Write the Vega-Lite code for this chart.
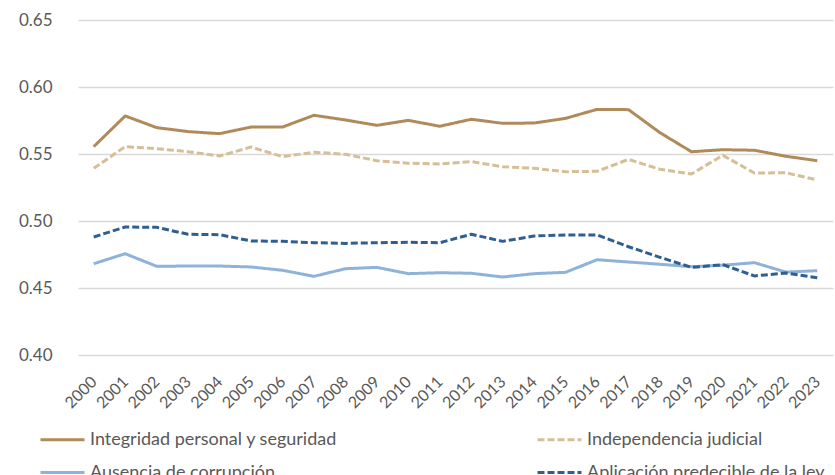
{
  "$schema": "https://vega.github.io/schema/vega-lite/v6.json",
  "autosize": {"type": "none"},
  "width": 773,
  "height": 335,
  "padding": {"left": 62, "top": 20, "right": 0, "bottom": 120},
  "background": "white",
  "config": {
    "view": {"stroke": null},
    "font": "Lato",
    "axis": {"labelFont": "Lato", "labelColor": "#595959", "labelFontSize": 16},
    "legend": {"labelFont": "Lato"}
  },
  "datasets": {
    "d": [
      {"year": "2000", "s": "Integridad personal y seguridad", "v": 0.5555},
      {"year": "2001", "s": "Integridad personal y seguridad", "v": 0.5784},
      {"year": "2002", "s": "Integridad personal y seguridad", "v": 0.5697},
      {"year": "2003", "s": "Integridad personal y seguridad", "v": 0.5667},
      {"year": "2004", "s": "Integridad personal y seguridad", "v": 0.5652},
      {"year": "2005", "s": "Integridad personal y seguridad", "v": 0.5701},
      {"year": "2006", "s": "Integridad personal y seguridad", "v": 0.5701},
      {"year": "2007", "s": "Integridad personal y seguridad", "v": 0.5789},
      {"year": "2008", "s": "Integridad personal y seguridad", "v": 0.5754},
      {"year": "2009", "s": "Integridad personal y seguridad", "v": 0.5714},
      {"year": "2010", "s": "Integridad personal y seguridad", "v": 0.5751},
      {"year": "2011", "s": "Integridad personal y seguridad", "v": 0.5707},
      {"year": "2012", "s": "Integridad personal y seguridad", "v": 0.5759},
      {"year": "2013", "s": "Integridad personal y seguridad", "v": 0.5729},
      {"year": "2014", "s": "Integridad personal y seguridad", "v": 0.5731},
      {"year": "2015", "s": "Integridad personal y seguridad", "v": 0.5766},
      {"year": "2016", "s": "Integridad personal y seguridad", "v": 0.5833},
      {"year": "2017", "s": "Integridad personal y seguridad", "v": 0.5831},
      {"year": "2018", "s": "Integridad personal y seguridad", "v": 0.5659},
      {"year": "2019", "s": "Integridad personal y seguridad", "v": 0.5517},
      {"year": "2020", "s": "Integridad personal y seguridad", "v": 0.5532},
      {"year": "2021", "s": "Integridad personal y seguridad", "v": 0.5528},
      {"year": "2022", "s": "Integridad personal y seguridad", "v": 0.5483},
      {"year": "2023", "s": "Integridad personal y seguridad", "v": 0.545},
      {"year": "2000", "s": "Independencia judicial", "v": 0.5393},
      {"year": "2001", "s": "Independencia judicial", "v": 0.5555},
      {"year": "2002", "s": "Independencia judicial", "v": 0.554},
      {"year": "2003", "s": "Independencia judicial", "v": 0.5517},
      {"year": "2004", "s": "Independencia judicial", "v": 0.5485},
      {"year": "2005", "s": "Independencia judicial", "v": 0.5552},
      {"year": "2006", "s": "Independencia judicial", "v": 0.548},
      {"year": "2007", "s": "Independencia judicial", "v": 0.5513},
      {"year": "2008", "s": "Independencia judicial", "v": 0.5498},
      {"year": "2009", "s": "Independencia judicial", "v": 0.545},
      {"year": "2010", "s": "Independencia judicial", "v": 0.5431},
      {"year": "2011", "s": "Independencia judicial", "v": 0.5425},
      {"year": "2012", "s": "Independencia judicial", "v": 0.5443},
      {"year": "2013", "s": "Independencia judicial", "v": 0.5405},
      {"year": "2014", "s": "Independencia judicial", "v": 0.5393},
      {"year": "2015", "s": "Independencia judicial", "v": 0.5368},
      {"year": "2016", "s": "Independencia judicial", "v": 0.5371},
      {"year": "2017", "s": "Independencia judicial", "v": 0.546},
      {"year": "2018", "s": "Independencia judicial", "v": 0.5386},
      {"year": "2019", "s": "Independencia judicial", "v": 0.5351},
      {"year": "2020", "s": "Independencia judicial", "v": 0.549},
      {"year": "2021", "s": "Independencia judicial", "v": 0.5358},
      {"year": "2022", "s": "Independencia judicial", "v": 0.536},
      {"year": "2023", "s": "Independencia judicial", "v": 0.5306},
      {"year": "2000", "s": "Ausencia de corrupción", "v": 0.4681},
      {"year": "2001", "s": "Ausencia de corrupción", "v": 0.4756},
      {"year": "2002", "s": "Ausencia de corrupción", "v": 0.4662},
      {"year": "2003", "s": "Ausencia de corrupción", "v": 0.4664},
      {"year": "2004", "s": "Ausencia de corrupción", "v": 0.4664},
      {"year": "2005", "s": "Ausencia de corrupción", "v": 0.4657},
      {"year": "2006", "s": "Ausencia de corrupción", "v": 0.4632},
      {"year": "2007", "s": "Ausencia de corrupción", "v": 0.4587},
      {"year": "2008", "s": "Ausencia de corrupción", "v": 0.4644},
      {"year": "2009", "s": "Ausencia de corrupción", "v": 0.4654},
      {"year": "2010", "s": "Ausencia de corrupción", "v": 0.4607},
      {"year": "2011", "s": "Ausencia de corrupción", "v": 0.4614},
      {"year": "2012", "s": "Ausencia de corrupción", "v": 0.461},
      {"year": "2013", "s": "Ausencia de corrupción", "v": 0.4582},
      {"year": "2014", "s": "Ausencia de corrupción", "v": 0.4607},
      {"year": "2015", "s": "Ausencia de corrupción", "v": 0.4617},
      {"year": "2016", "s": "Ausencia de corrupción", "v": 0.4711},
      {"year": "2017", "s": "Ausencia de corrupción", "v": 0.4694},
      {"year": "2018", "s": "Ausencia de corrupción", "v": 0.4677},
      {"year": "2019", "s": "Ausencia de corrupción", "v": 0.4659},
      {"year": "2020", "s": "Ausencia de corrupción", "v": 0.467},
      {"year": "2021", "s": "Ausencia de corrupción", "v": 0.4689},
      {"year": "2022", "s": "Ausencia de corrupción", "v": 0.4619},
      {"year": "2023", "s": "Ausencia de corrupción", "v": 0.4629},
      {"year": "2000", "s": "Aplicación predecible de la ley", "v": 0.4881},
      {"year": "2001", "s": "Aplicación predecible de la ley", "v": 0.4955},
      {"year": "2002", "s": "Aplicación predecible de la ley", "v": 0.4953},
      {"year": "2003", "s": "Aplicación predecible de la ley", "v": 0.4901},
      {"year": "2004", "s": "Aplicación predecible de la ley", "v": 0.4898},
      {"year": "2005", "s": "Aplicación predecible de la ley", "v": 0.4851},
      {"year": "2006", "s": "Aplicación predecible de la ley", "v": 0.4848},
      {"year": "2007", "s": "Aplicación predecible de la ley", "v": 0.4838},
      {"year": "2008", "s": "Aplicación predecible de la ley", "v": 0.4833},
      {"year": "2009", "s": "Aplicación predecible de la ley", "v": 0.4838},
      {"year": "2010", "s": "Aplicación predecible de la ley", "v": 0.4841},
      {"year": "2011", "s": "Aplicación predecible de la ley", "v": 0.4838},
      {"year": "2012", "s": "Aplicación predecible de la ley", "v": 0.4901},
      {"year": "2013", "s": "Aplicación predecible de la ley", "v": 0.4848},
      {"year": "2014", "s": "Aplicación predecible de la ley", "v": 0.4888},
      {"year": "2015", "s": "Aplicación predecible de la ley", "v": 0.4896},
      {"year": "2016", "s": "Aplicación predecible de la ley", "v": 0.4896},
      {"year": "2017", "s": "Aplicación predecible de la ley", "v": 0.4808},
      {"year": "2018", "s": "Aplicación predecible de la ley", "v": 0.4729},
      {"year": "2019", "s": "Aplicación predecible de la ley", "v": 0.4654},
      {"year": "2020", "s": "Aplicación predecible de la ley", "v": 0.4674},
      {"year": "2021", "s": "Aplicación predecible de la ley", "v": 0.459},
      {"year": "2022", "s": "Aplicación predecible de la ley", "v": 0.4612},
      {"year": "2023", "s": "Aplicación predecible de la ley", "v": 0.4577}
    ]
  },
  "data": {"name": "d"},
  "mark": {"type": "line", "strokeWidth": 3, "strokeCap": "butt", "strokeJoin": "round"},
  "encoding": {
    "x": {
      "field": "year", "type": "ordinal",
      "scale": {"type": "point", "range": [16, 771]},
      "axis": {
        "title": null, "labelAngle": -45, "labelAlign": "right", "labelBaseline": "middle",
        "ticks": false, "domain": false, "grid": false, "labelPadding": 24,
        "labelFontSize": 16
      }
    },
    "y": {
      "field": "v", "type": "quantitative",
      "scale": {"domain": [0.4, 0.65], "nice": false, "zero": false},
      "axis": {
        "title": null, "values": [0.4, 0.45, 0.5, 0.55, 0.6, 0.65], "format": ".2f",
        "ticks": false, "domain": false, "grid": true, "gridColor": "#d9d9d9", "gridWidth": 1.5,
        "labelPadding": 10, "labelFontSize": 17
      }
    },
    "color": {
      "field": "s", "type": "nominal",
      "scale": {
        "domain": ["Integridad personal y seguridad", "Independencia judicial", "Ausencia de corrupción", "Aplicación predecible de la ley"],
        "range": ["#b08a5a", "#d6bf97", "#8fb2d9", "#2f5f92"]
      },
      "legend": {
        "title": null, "orient": "none", "direction": "horizontal", "legendX": -23, "legendY": 396, "columns": 2,
        "symbolType": "stroke", "symbolSize": 1936, "symbolStrokeWidth": 3,
        "labelFontSize": 18, "labelColor": "#595959", "labelOffset": 4, "labelLimit": 400,
        "columnPadding": 193, "rowPadding": -19
      }
    },
    "strokeDash": {
      "field": "s", "type": "nominal",
      "scale": {
        "domain": ["Integridad personal y seguridad", "Independencia judicial", "Ausencia de corrupción", "Aplicación predecible de la ley"],
        "range": [[1, 0], [7, 3], [1, 0], [7, 3]]
      },
      "legend": null
    }
  }
}
